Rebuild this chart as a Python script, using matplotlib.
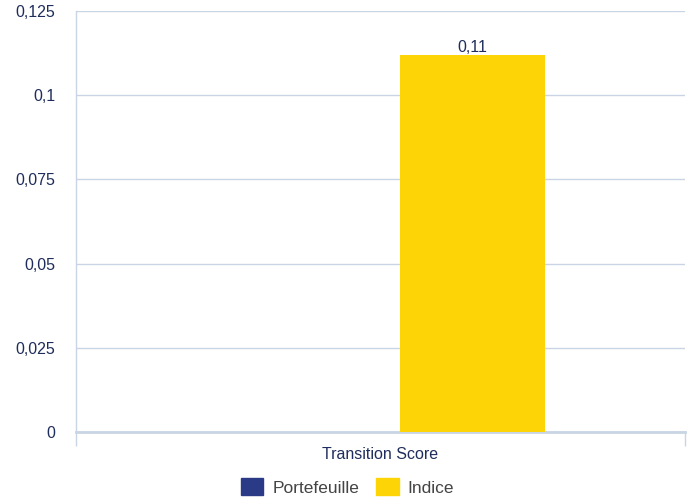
import matplotlib
matplotlib.use("Agg")
import matplotlib.pyplot as plt
from matplotlib.ticker import FixedLocator
from matplotlib.patches import Patch
import numpy as np

categories = ["Transition Score"]
series_names = ["Portefeuille", "Indice"]
portefeuille = [np.nan]
indice = [0.112]
labels_indice = ["0,11"]
y_ticks = [0, 0.025, 0.05, 0.075, 0.1, 0.125]
y_tick_labels = ["0", "0,025", "0,05", "0,075", "0,1", "0,125"]

colors = ["#2b3a87", "#fdd405"]
text_navy = "#1f2d5c"
grid_col = "#c9d5e4"

plt.rcParams['font.family'] = ['Liberation Sans', 'DejaVu Sans']

fig = plt.figure(figsize=(6.95, 4.99), dpi=100)
ax = fig.add_axes([76/695, 1 - 432/499, (685-76)/695, (432-11)/499])

x = np.arange(len(categories))
w = 0.238
off = 0.151
ax.bar(x - off, portefeuille, w, color=colors[0], zorder=3)
bars = ax.bar(x + off, indice, w, color=colors[1], zorder=3)
for b, lab in zip(bars, labels_indice):
    ax.text(b.get_x() + b.get_width()/2, b.get_height(), lab, ha='center', va='bottom',
            fontsize=11.5, color=text_navy, zorder=4)

ax.set_xlim(-0.5, 0.5)
ax.set_ylim(0, 0.125)
ax.set_yticks(y_ticks)
ax.set_yticklabels(y_tick_labels)
ax.tick_params(axis='y', length=0, pad=15, labelsize=11.5, labelcolor=text_navy)
ax.yaxis.grid(True, color=grid_col, linewidth=1, zorder=0)
ax.set_axisbelow(True)

ax.set_xticks(x)
ax.set_xticklabels(categories)
ax.tick_params(axis='x', which='major', length=0, pad=11, labelsize=11.5, labelcolor=text_navy)
ax.xaxis.set_minor_locator(FixedLocator([-0.5, 0.5]))
ax.tick_params(axis='x', which='minor', length=10, color=grid_col, width=1)

for s in ['top', 'right']:
    ax.spines[s].set_visible(False)
ax.spines['left'].set_color(grid_col)
ax.spines['left'].set_linewidth(1)
ax.spines['bottom'].set_color(grid_col)
ax.spines['bottom'].set_linewidth(2)

handles = [Patch(color=colors[0], label=series_names[0]), Patch(color=colors[1], label=series_names[1])]
leg = fig.legend(handles=handles, loc='center', bbox_to_anchor=(0.5, 1 - 487/499), ncol=2,
                 frameon=False, fontsize=12.5, handlelength=1.3, handleheight=1.1,
                 handletextpad=0.5, columnspacing=1.0, labelcolor='#444444')

fig.savefig("out.png", dpi=100)
